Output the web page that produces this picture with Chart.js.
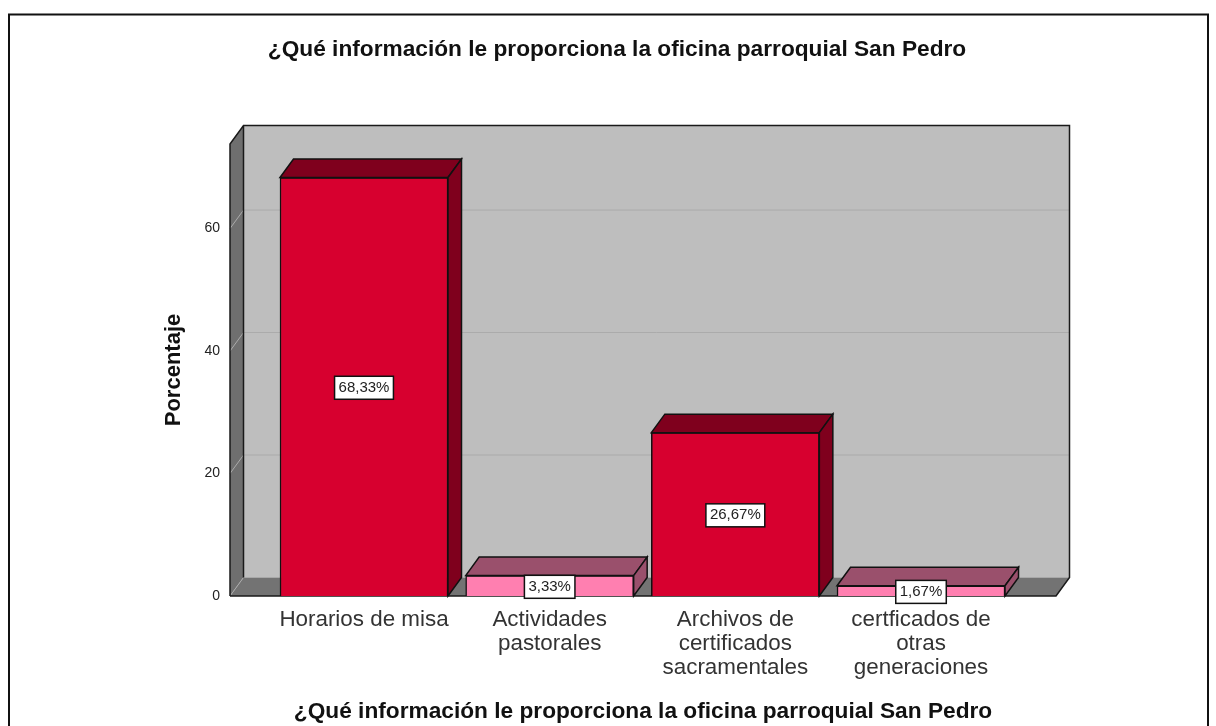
<!DOCTYPE html>
<html lang="es">
<head>
<meta charset="utf-8">
<style>html,body{margin:0;padding:0;background:#fff}canvas{display:block}</style>
<script src="https://cdn.jsdelivr.net/npm/chart.js@4/dist/chart.umd.min.js"></script>
</head>
<body>
<canvas id="c" width="1216" height="726"></canvas>
<script>
const categories = [['Horarios de misa'], ['Actividades', 'pastorales'], ['Archivos de', 'certificados', 'sacramentales'], ['certficados de', 'otras', 'generaciones']];
const values = [68.33, 3.33, 26.67, 1.67];
const valueLabels = ['68,33%', '3,33%', '26,67%', '1,67%'];
const frontColors = ['#D7002F', '#FF7FB0', '#D7002F', '#FF7FB0'];
const topColors = ['#7F001D', '#9A506C', '#7F001D', '#9A506C'];
const sideColors = ['#7F001D', '#9A506C', '#7F001D', '#9A506C'];
const yTicks = [0, 20, 40, 60];
const titleText = '¿Qué información le proporciona la oficina parroquial San Pedro';
const yTitle = 'Porcentaje';
const DX = 13.5, DY = -18.5;
const FONT = '"Liberation Sans", Arial, sans-serif';

function poly(ctx, pts, fill, stroke, lw) {
  ctx.beginPath();
  pts.forEach((p, i) => i ? ctx.lineTo(p[0], p[1]) : ctx.moveTo(p[0], p[1]));
  ctx.closePath();
  if (fill) { ctx.fillStyle = fill; ctx.fill(); }
  if (stroke) { ctx.strokeStyle = stroke; ctx.lineWidth = lw || 1.5; ctx.stroke(); }
}

const frame3d = {
  id: 'frame3d',
  afterLayout(chart) {
    if (chart.titleBlock) { chart.titleBlock.left = 18; chart.titleBlock.right = 1216; }
  },
  beforeDraw(chart) {
    const c = chart.ctx;
    c.save();
    c.fillStyle = '#fff';
    c.fillRect(0, 0, 1216, 726);
    c.strokeStyle = '#111';
    c.lineWidth = 2;
    c.beginPath();
    c.moveTo(9, 726); c.lineTo(9, 14.5); c.lineTo(1208, 14.5); c.lineTo(1208, 726);
    c.stroke();
    c.restore();
  },
  beforeDatasetsDraw(chart) {
    const c = chart.ctx, a = chart.chartArea, y = chart.scales.y;
    const l = a.left, r = a.right, t = a.top, b = a.bottom;
    c.save();
    poly(c, [[l + DX, t + DY], [r + DX, t + DY], [r + DX, b + DY], [l + DX, b + DY]], '#BEBEBE');
    poly(c, [[l, t], [l + DX, t + DY], [l + DX, b + DY], [l, b]], '#6F6F6F');
    poly(c, [[l, b], [l + DX, b + DY], [r + DX, b + DY], [r, b]], '#737373');
    yTicks.forEach(v => {
      const p = y.getPixelForValue(v);
      c.strokeStyle = '#ABABAB';
      c.lineWidth = 1;
      c.beginPath();
      c.moveTo(l, p); c.lineTo(l + DX, p + DY);
      if (v) c.lineTo(r + DX, p + DY);
      c.stroke();
    });
    c.strokeStyle = '#1a1a1a';
    c.lineWidth = 1.5;
    c.beginPath();
    c.moveTo(l, b); c.lineTo(l, t); c.lineTo(l + DX, t + DY); c.lineTo(r + DX, t + DY);
    c.lineTo(r + DX, b + DY); c.lineTo(r, b); c.lineTo(l, b);
    c.moveTo(l + DX, t + DY); c.lineTo(l + DX, b + DY);
    c.stroke();
    c.restore();
  },
  afterDatasetsDraw(chart) {
    const c = chart.ctx, bars = chart.getDatasetMeta(0).data;
    c.save();
    bars.forEach((bar, i) => {
      const x0 = bar.x - bar.width / 2, x1 = bar.x + bar.width / 2, top = bar.y, base = bar.base;
      poly(c, [[x0, top], [x0 + DX, top + DY], [x1 + DX, top + DY], [x1, top]], topColors[i], '#111');
      poly(c, [[x1, top], [x1 + DX, top + DY], [x1 + DX, base + DY], [x1, base]], sideColors[i], '#111');
    });
    c.font = '15px ' + FONT;
    c.textAlign = 'center';
    c.textBaseline = 'middle';
    bars.forEach((bar, i) => {
      const cy = (bar.y + bar.base) / 2 + 1;
      const w = c.measureText(valueLabels[i]).width + 8;
      const h = 23;
      c.fillStyle = '#fff';
      c.strokeStyle = '#111';
      c.lineWidth = 1.5;
      c.fillRect(bar.x - w / 2, cy - h / 2, w, h);
      c.strokeRect(bar.x - w / 2, cy - h / 2, w, h);
      c.fillStyle = '#222';
      c.fillText(valueLabels[i], bar.x, cy);
    });
    c.restore();
  }
};

new Chart(document.getElementById('c'), {
  type: 'bar',
  data: {
    datasets: [{
      data: values.map((v, i) => ({ x: i, y: v })),
      backgroundColor: frontColors,
      borderColor: '#111',
      borderWidth: 1.5,
      barThickness: 168
    }]
  },
  plugins: [frame3d],
  options: {
    responsive: false,
    animation: false,
    devicePixelRatio: 1,
    layout: { padding: { left: 0, right: 160, top: 0, bottom: 0 } },
    plugins: {
      legend: { display: false },
      tooltip: { enabled: false },
      title: {
        display: true,
        text: titleText,
        color: '#111',
        font: { family: FONT, size: 22.7, weight: 'bold' },
        padding: { top: 36.4, bottom: 80.4 }
      }
    },
    scales: {
      x: {
        type: 'linear',
        offset: false,
        min: -0.7217,
        max: 3.727,
        afterBuildTicks(s) { s.ticks = categories.map((_, i) => ({ value: i })); },
        afterFit(s) { s.height = 130; },
        grid: { display: false, drawTicks: false },
        border: { display: false },
        ticks: {
          autoSkip: false,
          maxRotation: 0,
          minRotation: 0,
          padding: 12,
          color: '#333',
          font: { family: FONT, size: 22.4, lineHeight: 1.06 },
          callback: v => categories[v]
        },
        title: {
          display: true,
          text: titleText,
          color: '#111',
          font: { family: FONT, size: 22.7, weight: 'bold' },
          padding: { top: 0, bottom: 1 }
        }
      },
      y: {
        min: 0,
        max: 73.8,
        afterBuildTicks(s) { s.ticks = yTicks.map(v => ({ value: v })); },
        afterFit(s) { s.width = 230; },
        grid: { display: false, drawTicks: false },
        border: { display: false },
        ticks: {
          padding: 10,
          color: '#222',
          font: { family: FONT, size: 14 }
        },
        title: {
          display: true,
          text: yTitle,
          color: '#111',
          font: { family: FONT, size: 22, weight: 'bold' },
          padding: { top: 161, bottom: 0 }
        }
      }
    }
  }
});
</script>
</body>
</html>
